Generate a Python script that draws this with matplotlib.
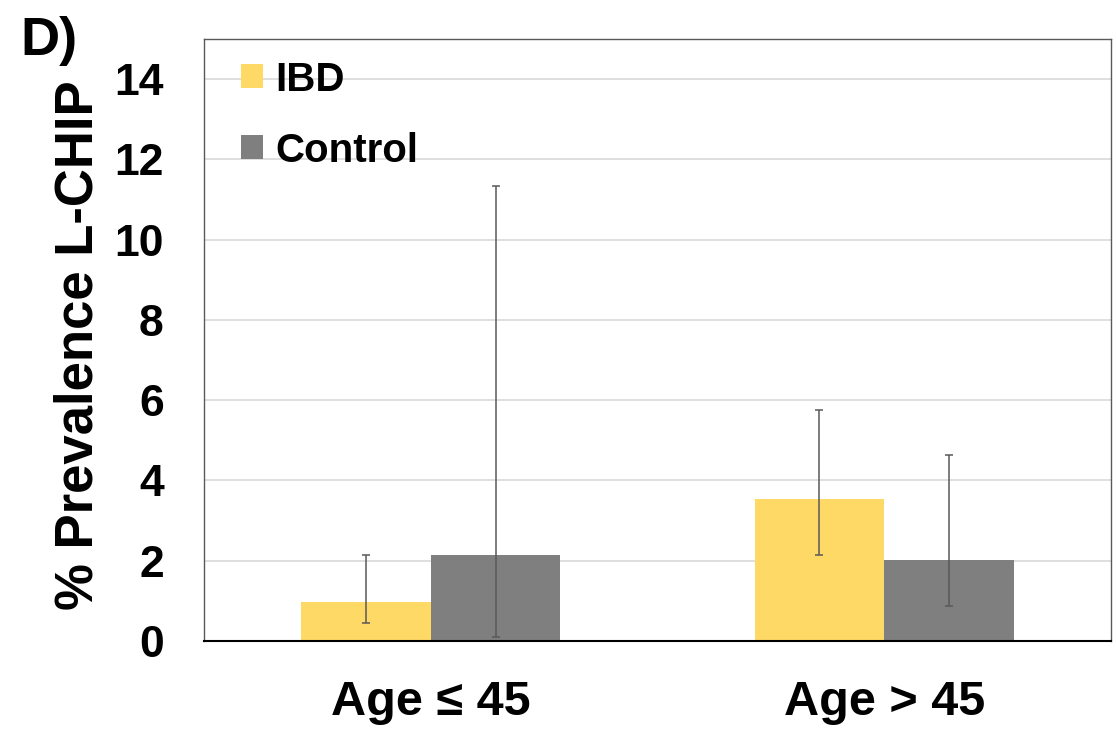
import matplotlib
matplotlib.use("Agg")
import matplotlib.pyplot as plt
import numpy as np

categories = ["Age \u2264 45", "Age > 45"]
series_names = ["IBD", "Control"]
ibd_values = [0.97, 3.54]
ibd_lower = [0.45, 2.15]
ibd_upper = [2.14, 5.75]
control_values = [2.14, 2.02]
control_lower = [0.10, 0.87]
control_upper = [11.33, 4.63]
yticks = [0, 2, 4, 6, 8, 10, 12, 14]

plt.rcParams['font.family'] = ['Liberation Sans', 'DejaVu Sans']

fig = plt.figure(figsize=(11.16, 7.34), dpi=100)
ax = fig.add_axes([0.1828, 0.1267, 0.8127, 0.8202])

x = np.arange(len(categories))
w = 0.286
colors = ["#FFD966", "#7F7F7F"]

for i, (vals, lo, hi) in enumerate([(ibd_values, ibd_lower, ibd_upper),
                                     (control_values, control_lower, control_upper)]):
    pos = x - w / 2 + i * w
    vals = np.array(vals); lo = np.array(lo); hi = np.array(hi)
    ax.bar(pos, vals, width=w, color=colors[i], label=series_names[i], zorder=2)
    ax.errorbar(pos, vals, yerr=[vals - lo, hi - vals], fmt='none',
                ecolor="#595959", elinewidth=1.1, capsize=3, capthick=1.1, zorder=3)

ax.set_xlim(-0.5, 1.5)
ax.set_ylim(0, 15)
ax.set_yticks(yticks)
ax.set_yticklabels([str(t) for t in yticks], fontsize=32, fontweight='bold')
ax.set_xticks(x)
ax.set_xticklabels(categories, fontsize=35, fontweight='bold')
ax.tick_params(axis='both', length=0)
ax.tick_params(axis='y', pad=29)
ax.tick_params(axis='x', pad=28)
ax.yaxis.grid(True, color="#D9D9D9", linewidth=1.2, zorder=0)
ax.set_axisbelow(True)

for s in ['left', 'top', 'right']:
    ax.spines[s].set_color("#595959")
    ax.spines[s].set_linewidth(1.0)
ax.spines['bottom'].set_color("black")
ax.spines['bottom'].set_linewidth(1.5)

fig.text(79 / 1116, 0.530, "% Prevalence L-CHIP", fontsize=38, fontweight='bold',
         rotation=90, ha='center', va='center')

leg = ax.legend(loc='upper left', bbox_to_anchor=(0.023, 0.991), frameon=False,
                prop={'size': 29, 'weight': 'bold'}, handlelength=0.55, handleheight=0.55,
                handletextpad=0.3, labelspacing=0.82, borderaxespad=0.0)

fig.text(0.018, 0.978, "D)", fontsize=39, fontweight='bold', va='top', ha='left')

fig.savefig("out.png", dpi=100)
